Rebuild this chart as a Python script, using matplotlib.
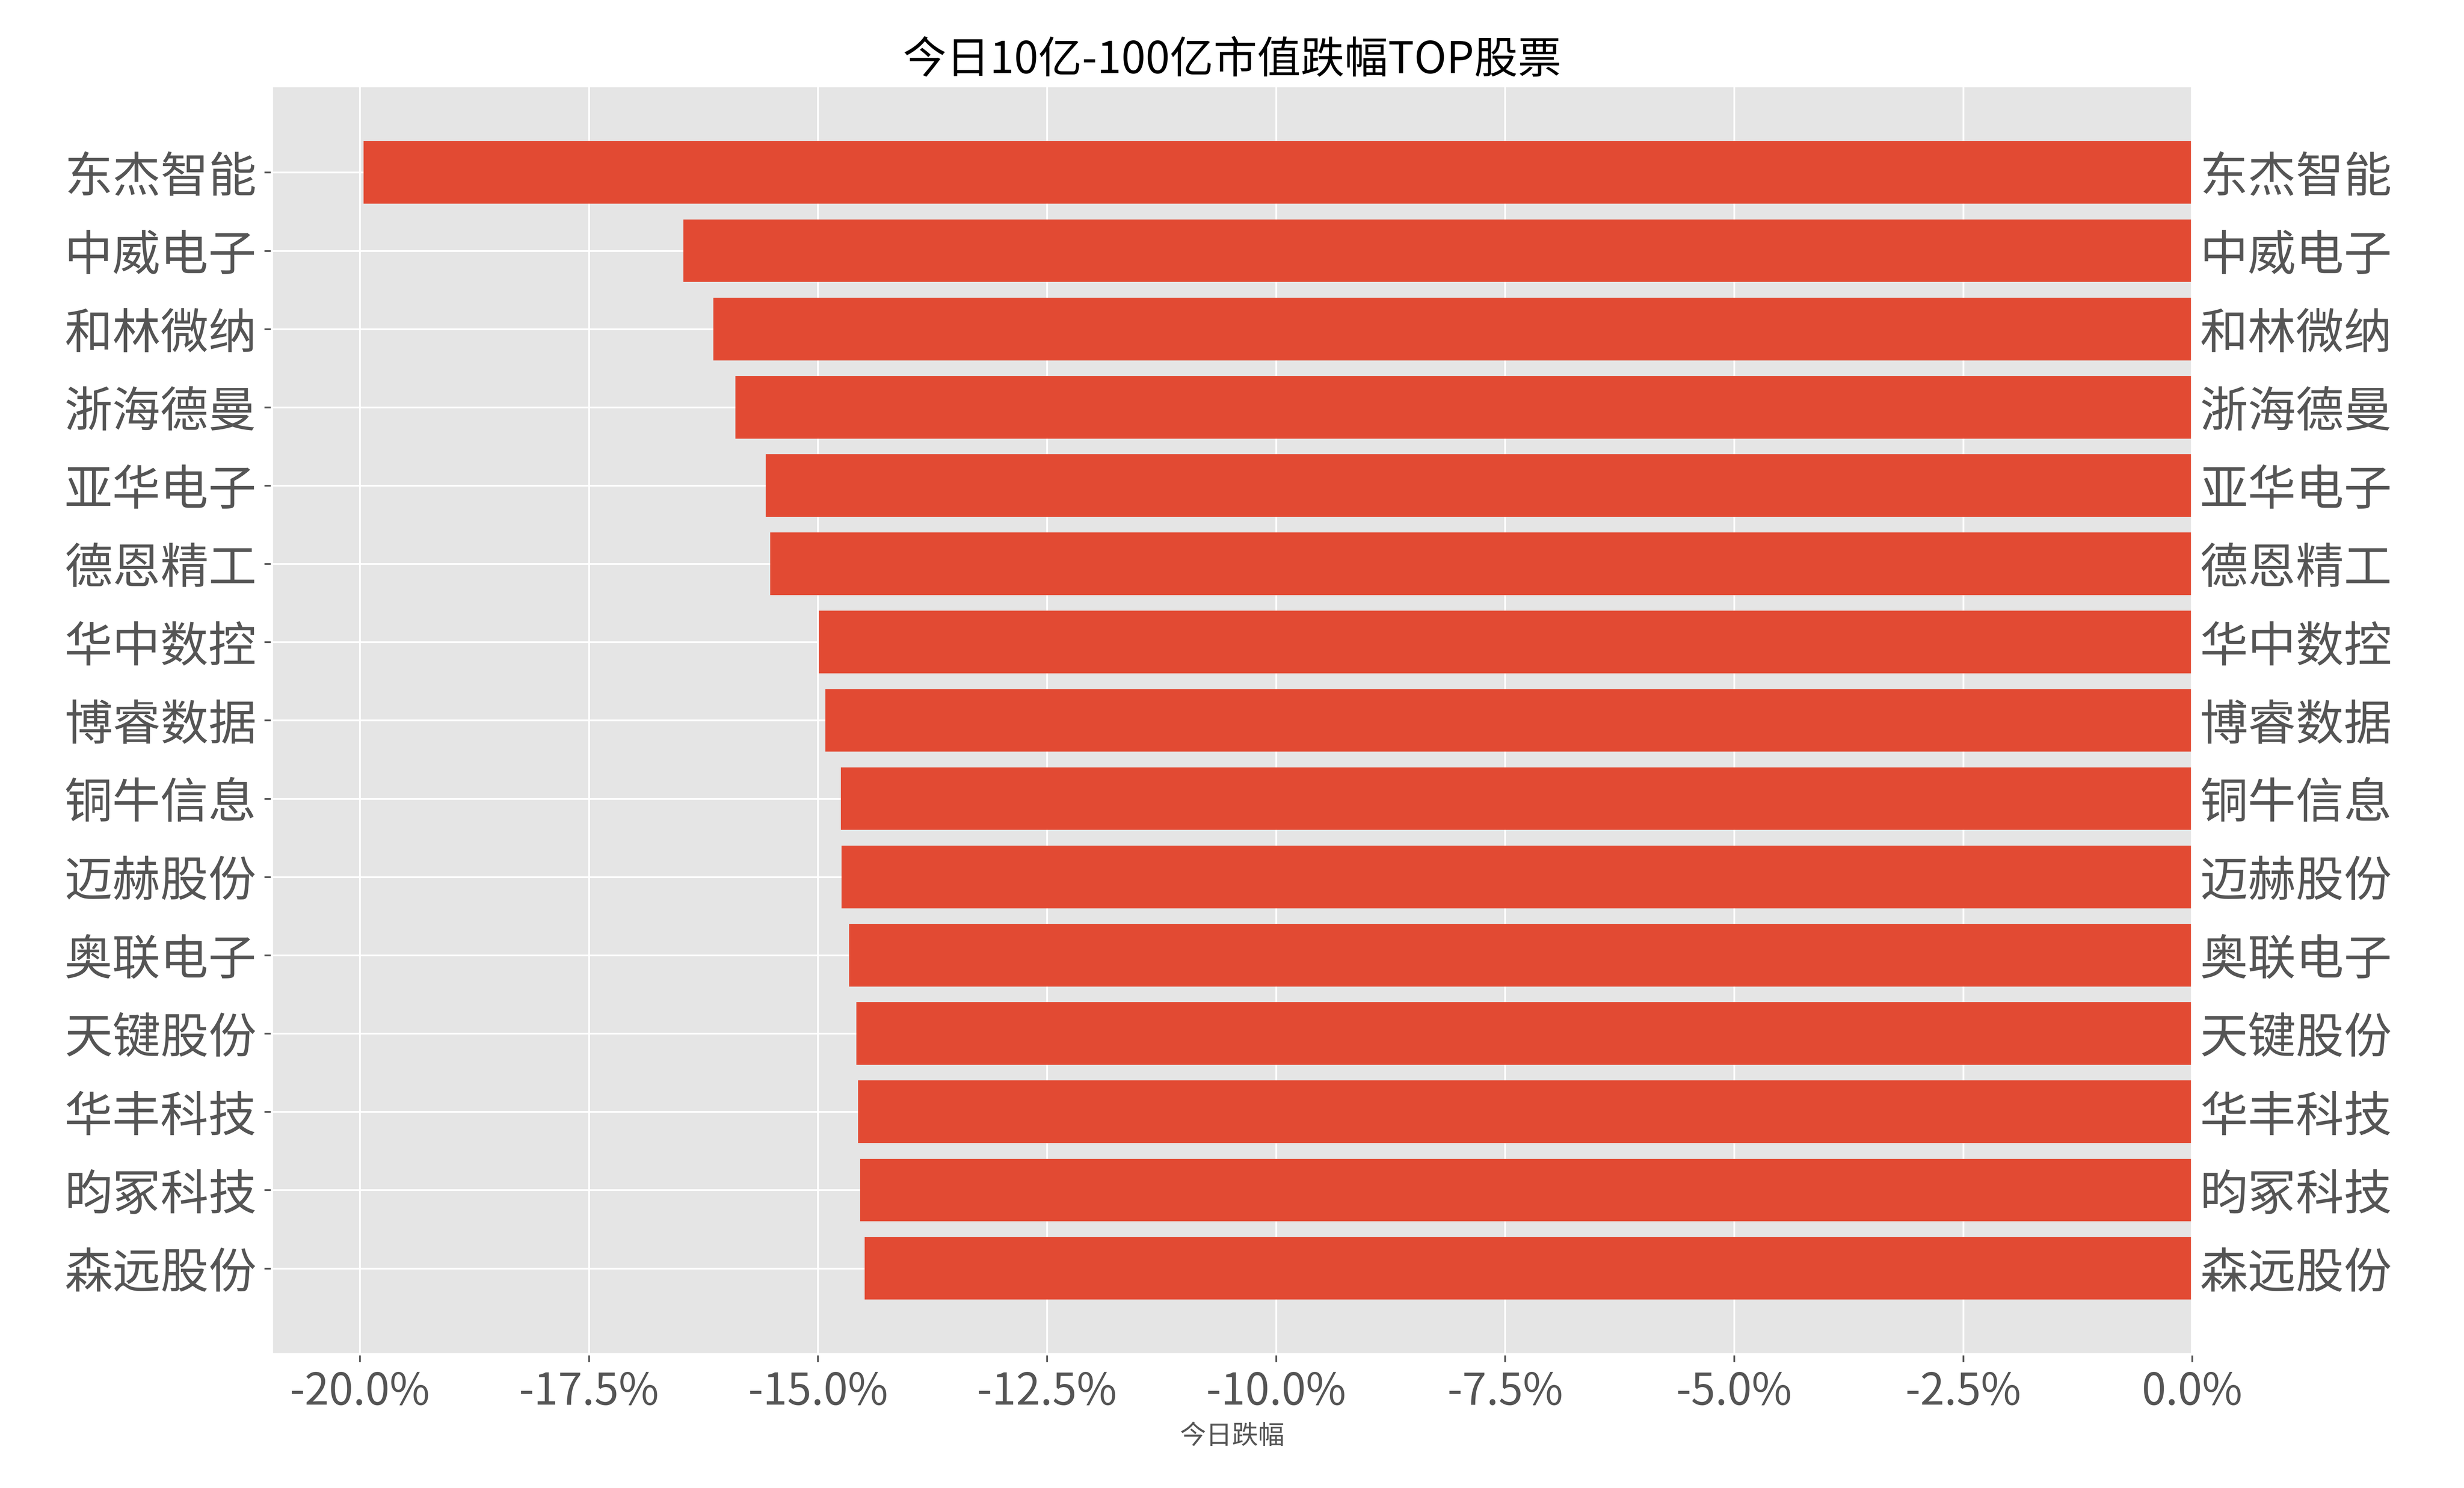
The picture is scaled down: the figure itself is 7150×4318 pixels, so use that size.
import matplotlib
matplotlib.use("Agg")
import matplotlib.pyplot as plt
from matplotlib.ticker import FuncFormatter

plt.style.use("ggplot")
plt.rcParams['font.family'] = ['Noto Sans CJK SC', 'DejaVu Sans']
plt.rcParams['axes.unicode_minus'] = False

names = ["东杰智能", "中威电子", "和林微纳", "浙海德曼", "亚华电子", "德恩精工", "华中数控", "博睿数据",
         "铜牛信息", "迈赫股份", "奥联电子", "天键股份", "华丰科技", "昀冢科技", "森远股份"]
values = [-19.96, -16.47, -16.14, -15.90, -15.57, -15.52, -14.99, -14.92,
          -14.75, -14.74, -14.66, -14.58, -14.56, -14.54, -14.49]

fig = plt.figure(figsize=(15.68, 9.47), dpi=456)
ax = fig.add_axes([173/1568, 1-862/947, (1395-173)/1568, (862-55)/947])
y = list(range(len(names)))
ax.barh(y, values, height=0.8, color="#E24A33")
ax.set_ylim(len(names) - 1 + 1.1, -1.1)
ax.set_xlim(-20.96, 0)
ax.set_yticks(y)
ax.set_yticklabels(names, fontsize=22)
ax.xaxis.set_major_formatter(FuncFormatter(lambda v, p: f"{v:.1f}%"))
ax.tick_params(axis='x', labelsize=20)
ax.set_xlabel("今日跌幅", fontsize=12)
ax.set_title("今日10亿-100亿市值跌幅TOP股票", fontsize=20)
ax2 = ax.twinx()
ax2.set_ylim(ax.get_ylim())
ax2.set_yticks(y)
ax2.set_yticklabels(names, fontsize=22)
ax2.grid(False)
ax2.tick_params(axis='y', length=0)
fig.savefig("out.png", dpi=456)
